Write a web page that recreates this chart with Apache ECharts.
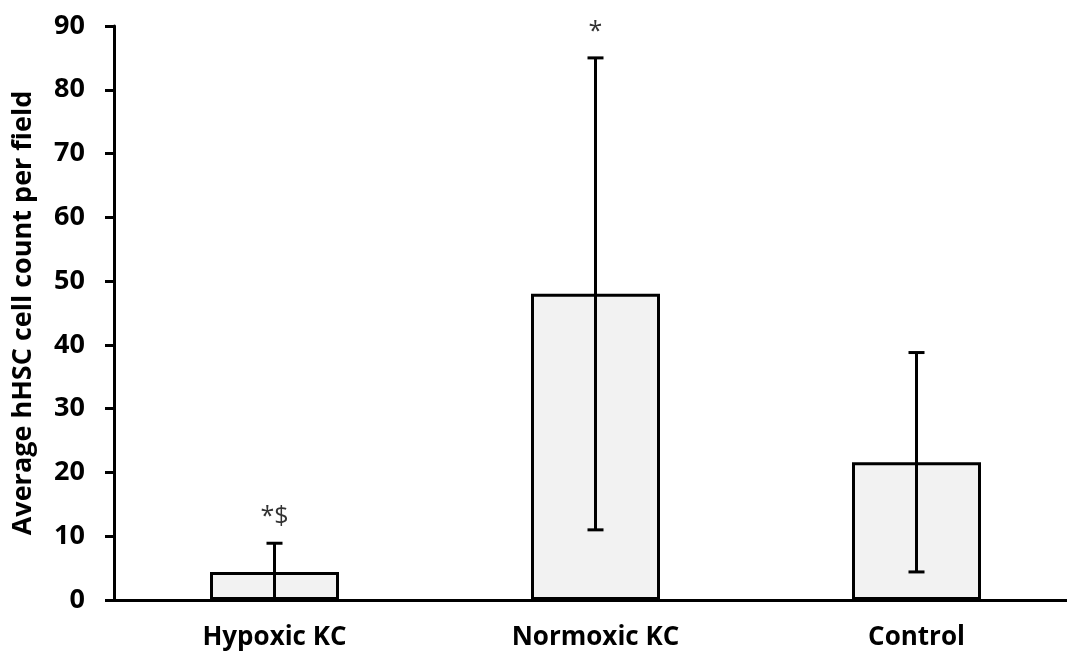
<!DOCTYPE html>
<html><head><meta charset="utf-8">
<script src="https://cdn.jsdelivr.net/npm/echarts@6/dist/echarts.min.js"></script>
<style>html,body{margin:0;padding:0;background:#fff}#c{width:1067px;height:657px}</style>
</head><body><div id="c"></div>
<script>
var categories = ["Hypoxic KC", "Normoxic KC", "Control"];
var means = [4.4, 48.0, 21.6];
var errors = [4.5, 37.0, 17.2];
var annotations = ["*$", "*", ""];
var yTicks = [0, 10, 20, 30, 40, 50, 60, 70, 80, 90];

var chart = echarts.init(document.getElementById('c'));
var errData = categories.map(function (c, i) {
  return [i, Math.max(0, means[i] - errors[i]), means[i] + errors[i], annotations[i]];
});
var font = '"Open Sans", "Liberation Sans", sans-serif';
chart.setOption({
  animation: false,
  grid: { left: 114, top: 26, width: 963, height: 574, containLabel: false, outerBoundsMode: 'none' },
  xAxis: {
    type: 'category', data: categories,
    axisLine: { lineStyle: { color: '#000', width: 3 } },
    axisTick: { show: false },
    axisLabel: { color: '#000', fontWeight: 'bold', fontSize: 26, fontFamily: font, margin: 25 }
  },
  yAxis: {
    type: 'value', min: yTicks[0], max: yTicks[yTicks.length - 1], interval: 10,
    name: 'Average hHSC cell count per field', nameLocation: 'middle', nameGap: 77,
    nameTextStyle: { color: '#000', fontWeight: 'bold', fontSize: 27, fontFamily: font },
    axisLine: { show: true, lineStyle: { color: '#000', width: 3 } },
    axisTick: { show: true, length: 9, lineStyle: { color: '#000', width: 3 } },
    splitLine: { show: false },
    axisLabel: { color: '#000', fontWeight: 'bold', fontSize: 27, fontFamily: font, margin: 29 }
  },
  series: [{
    type: 'bar', data: means, barWidth: 129,
    itemStyle: { color: '#f2f2f2', borderColor: '#000', borderWidth: 3 }
  }, {
    type: 'custom', data: errData, z: 10,
    renderItem: function (params, api) {
      var x = api.value(0);
      var lo = api.coord([x, api.value(1)]);
      var hi = api.coord([x, api.value(2)]);
      var cap = 8;
      var children = [
        { type: 'line', shape: { x1: hi[0], y1: hi[1], x2: lo[0], y2: lo[1] }, style: { stroke: '#000', lineWidth: 3 } },
        { type: 'line', shape: { x1: hi[0] - cap, y1: hi[1], x2: hi[0] + cap, y2: hi[1] }, style: { stroke: '#000', lineWidth: 3 } }
      ];
      if (api.value(1) > 0) {
        children.push({ type: 'line', shape: { x1: lo[0] - cap, y1: lo[1], x2: lo[0] + cap, y2: lo[1] }, style: { stroke: '#000', lineWidth: 3 } });
      }
      var ann = annotations[params.dataIndex];
      if (ann) {
        children.push({ type: 'text', style: { text: ann, x: hi[0], y: hi[1] - 26, textAlign: 'center', textVerticalAlign: 'middle', fill: '#333', font: '25px ' + font } });
      }
      return { type: 'group', children: children };
    }
  }]
});
</script></body></html>
